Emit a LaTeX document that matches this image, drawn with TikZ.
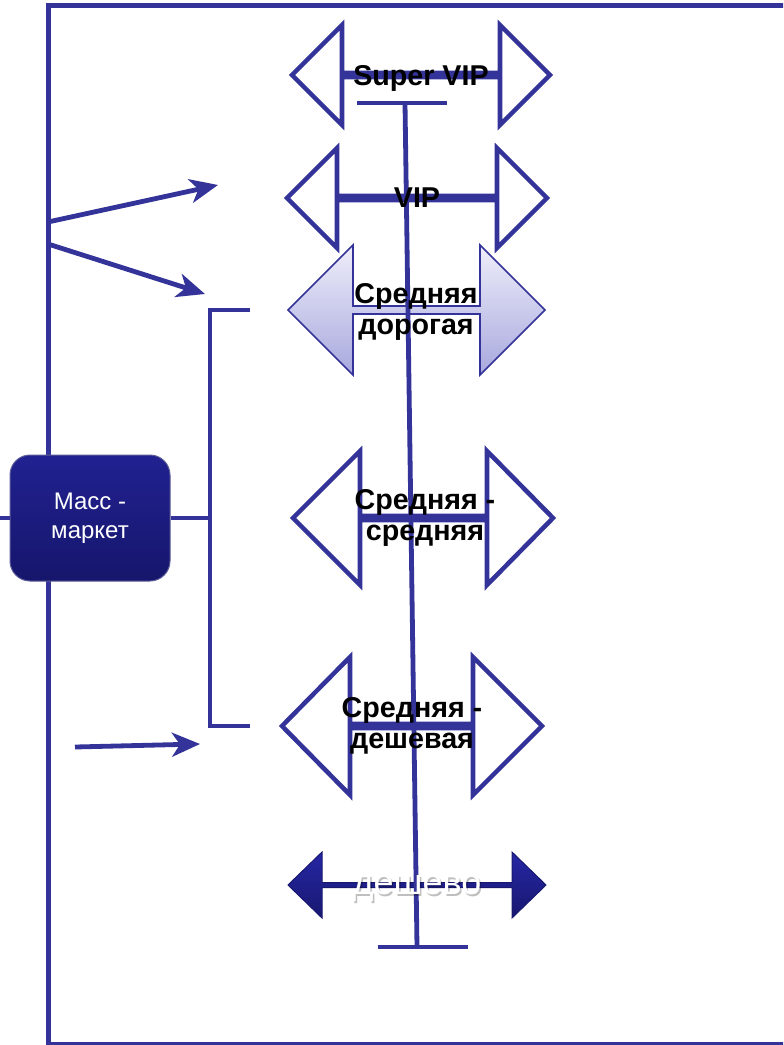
\documentclass[tikz,border=0pt]{standalone}
\usepackage{fontspec}
\setmainfont{Liberation Sans}
\usetikzlibrary{arrows.meta}

\definecolor{scaleblue}{RGB}{51,51,153}
\definecolor{boxtop}{RGB}{33,33,145}
\definecolor{boxbot}{RGB}{22,22,108}
\definecolor{midtop}{RGB}{238,238,250}
\definecolor{midbot}{RGB}{168,168,222}
\definecolor{headtop}{RGB}{38,38,165}
\definecolor{headbot}{RGB}{24,24,112}

% double headed level shape: [style]{tip x}{y}{left base x}{right base x}{tip x}{head half}{shaft half}
\newcommand{\levelshape}[8][]{%
  \draw[#1] (#2,#3) -- (#4,#3-#7) -- (#4,#3-#8) -- (#5,#3-#8) -- (#5,#3-#7)
    -- (#6,#3) -- (#5,#3+#7) -- (#5,#3+#8) -- (#4,#3+#8) -- (#4,#3+#7) -- cycle;}

\tikzset{
  levelline/.style={draw=scaleblue,line width=3.4pt,fill=white},
  levellabel/.style={font=\fontsize{21.5}{23.5}\selectfont\bfseries,align=center,inner sep=0pt},
  blueline/.style={draw=scaleblue,line width=3.6pt},
  bluearrow/.style={blueline,-{Stealth[length=21pt,width=18pt,inset=6pt]}},
}

\begin{document}
\begin{tikzpicture}[x=0.75pt,y=-0.75pt]
\useasboundingbox (0,0) rectangle (783,1045);
\clip (0,0) rectangle (783,1045);

% frame
\draw[scaleblue,line width=3.75pt] (800,6) -- (48,6) -- (48,1044) -- (800,1044);

% arrows out of the frame
\coordinate (up1) at (48,222);
\coordinate (up1end) at (218,185);
\coordinate (up2) at (48,244);
\coordinate (up2end) at (205,294);
\coordinate (low) at (75,747);
\coordinate (lowend) at (200,744);
\draw[bluearrow] (up1) -- (up1end);
\draw[bluearrow] (up2) -- (up2end);
\draw[bluearrow] (low) -- (lowend);

% bracket
\coordinate (brtop) at (250,310);
\coordinate (brbot) at (250,726);
\coordinate (brmid) at (211,518);
\draw[blueline] (brtop) -- (210,310) -- (210,726) -- (brbot);

% mass market
\node (mass) at (90,518) [draw=boxbot!70!white,line width=0.75pt,top color=boxtop,bottom color=boxbot,rounded corners=15pt,minimum width=120pt,minimum height=94.5pt,text=white,align=center,font=\fontsize{18}{22}\selectfont] {Масс -\\маркет};
\coordinate (edge) at (0,518);
\draw[blueline] (mass.east) -- (brmid);
\draw[blueline] (mass.west) -- (edge);

% price levels
\levelshape[levelline]{292}{75}{342}{500}{550}{50}{2}
\levelshape[levelline]{287}{198}{337}{497}{547}{50}{2}
\levelshape[draw=scaleblue,line width=1.2pt,top color=midtop,bottom color=midbot]{288}{310}{353}{480}{545}{65}{4}
\levelshape[levelline]{293}{518}{360}{487}{553}{67}{2}
\levelshape[levelline]{282}{726}{350}{473}{542}{69}{2}
\levelshape[draw=headbot,line width=0.75pt,top color=headtop,bottom color=headbot]{288}{885}{322}{512}{546}{33}{2.5}

% axis
\coordinate (axtop) at (405,103);
\coordinate (axbot) at (417,947);
\draw[blueline] (axtop) -- (axbot);
\draw[blueline] (357,103) -- (447,103);
\draw[blueline] (378,947) -- (468,947);

% labels
\node (supervip) at (421,78) [levellabel] {Super VIP};
\node (vip) at (417,198) [levellabel] {VIP};
\node (middear) at (416,312) [levellabel] {Средняя\\дорогая};
\node (midmid) at (425,518) [levellabel] {Средняя -\\средняя};
\node (midcheap) at (412,726) [levellabel] {Средняя -\\дешевая};
\node (cheapshadow) at (418.5,890) [font=\fontsize{27}{30}\selectfont,text=black,opacity=0.25,inner sep=0pt] {дешево};
\node (cheap) at (417,888) [font=\fontsize{27}{30}\selectfont,text=white,inner sep=0pt] {дешево};
\end{tikzpicture}
\end{document}
